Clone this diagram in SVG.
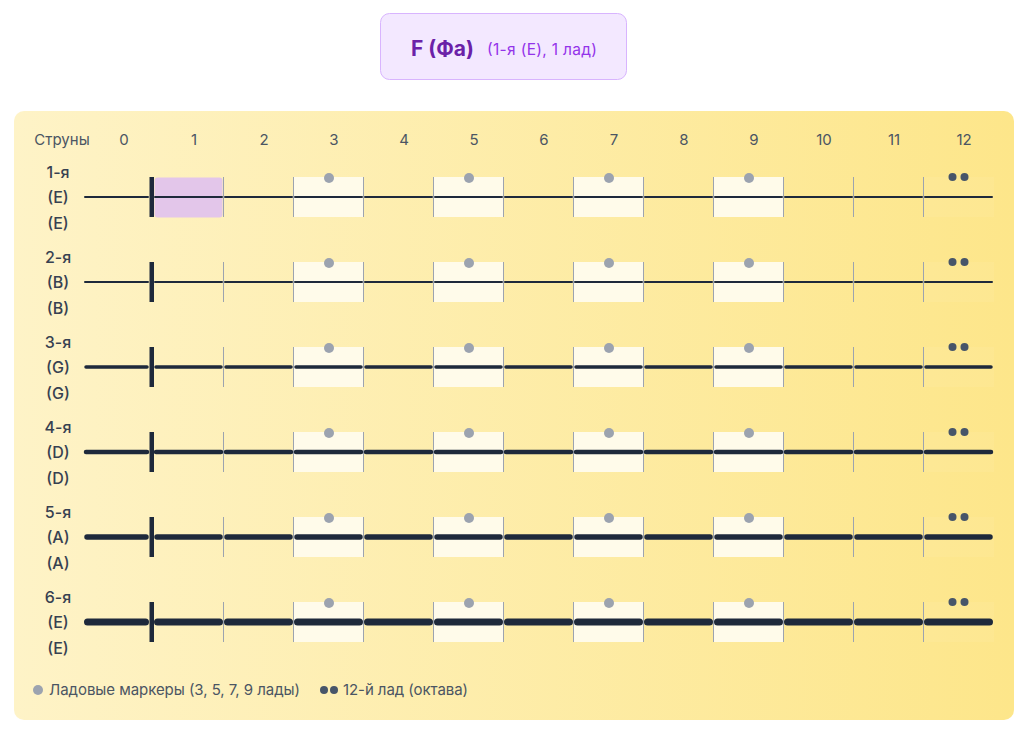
<svg xmlns="http://www.w3.org/2000/svg" xmlns:xlink="http://www.w3.org/1999/xlink" width="1023" height="738" viewBox="0 0 1023 738">
<defs>
<linearGradient id="bg" x1="0" y1="0" x2="1" y2="0">
<stop offset="0" stop-color="#fef3c7"/>
<stop offset="1" stop-color="#fde68a"/>
</linearGradient>
<style>
text{font-family:Inter,"Noto Sans","Liberation Sans",sans-serif}
.hdr{font-size:15px;fill:#4b5563;text-anchor:middle}
.lbl{font-size:16px;fill:#374151;text-anchor:middle;font-weight:500}
.leg{font-size:15px;fill:#4b5563}
.mcell{fill:#fffbea}
.fret{stroke:#9ca3af;stroke-width:1}
.dot{fill:#9ca3af}
.oct{fill:#475569}
.str{fill:none;stroke:#1e293b;stroke-linecap:round}
</style>
<g id="frame">
<rect class="mcell" x="293" y="-20" width="70" height="40"/>
<rect class="mcell" x="433" y="-20" width="70" height="40"/>
<rect class="mcell" x="573" y="-20" width="70" height="40"/>
<rect class="mcell" x="713" y="-20" width="70" height="40"/>
<rect x="923" y="-20" width="71" height="40" fill="#ffffff" fill-opacity="0.06"/>
<path class="fret" d="M223.5 -20V20M293.5 -20V20M363.5 -20V20M433.5 -20V20M503.5 -20V20M573.5 -20V20M643.5 -20V20M713.5 -20V20M783.5 -20V20M853.5 -20V20M923.5 -20V20"/>
</g>
<g id="marks">
<circle class="dot" cx="329" cy="-19" r="5"/>
<circle class="dot" cx="469" cy="-19" r="5"/>
<circle class="dot" cx="609" cy="-19" r="5"/>
<circle class="dot" cx="749" cy="-19" r="5"/>
<circle class="oct" cx="952.5" cy="-20" r="4"/>
<circle class="oct" cx="964.5" cy="-20" r="4"/>
<rect x="149.5" y="-20" width="4.5" height="40" fill="#1e293b"/>
</g>
</defs>

<g id="title">
<rect x="380.5" y="13.5" width="246" height="66" rx="9" fill="#f3e8ff" stroke="#d8b4fe" stroke-width="1"/>
<text x="411" y="56" font-size="21" font-weight="700" fill="#6b21a8" textLength="63">F (Фа)</text>
<text x="487" y="55" font-size="15.5" fill="#9333ea" textLength="110">(1-я (E), 1 лад)</text>
</g>

<g id="panel">
<rect x="14" y="111" width="1000" height="609" rx="10" fill="url(#bg)"/>
</g>

<g id="header">
<text class="hdr" x="62" y="145">Струны</text>
<text class="hdr" x="124" y="145">0</text>
<text class="hdr" x="194" y="145">1</text>
<text class="hdr" x="264" y="145">2</text>
<text class="hdr" x="334" y="145">3</text>
<text class="hdr" x="404" y="145">4</text>
<text class="hdr" x="474" y="145">5</text>
<text class="hdr" x="544" y="145">6</text>
<text class="hdr" x="614" y="145">7</text>
<text class="hdr" x="684" y="145">8</text>
<text class="hdr" x="754" y="145">9</text>
<text class="hdr" x="824" y="145">10</text>
<text class="hdr" x="894" y="145">11</text>
<text class="hdr" x="964" y="145">12</text>
</g>

<g id="string1" transform="translate(0,197)">
<use xlink:href="#frame" href="#frame"/>
<rect x="154.5" y="-19.5" width="68" height="40" rx="3" fill="#e3c6ea"/>
<path class="str" stroke-width="2" d="M85 0H148M155 0H222M225 0H292M295 0H362M365 0H432M435 0H502M505 0H572M575 0H642M645 0H712M715 0H782M785 0H852M855 0H922M925 0H992"/>
<use xlink:href="#marks" href="#marks"/>
<text class="lbl" x="58" y="-19">1-я</text>
<text class="lbl" x="58" y="6">(E)</text>
<text class="lbl" x="58" y="32">(E)</text>
</g>

<g id="string2" transform="translate(0,282)">
<use xlink:href="#frame" href="#frame"/>
<path class="str" stroke-width="2" d="M85 0H148M155 0H222M225 0H292M295 0H362M365 0H432M435 0H502M505 0H572M575 0H642M645 0H712M715 0H782M785 0H852M855 0H922M925 0H992"/>
<use xlink:href="#marks" href="#marks"/>
<text class="lbl" x="58" y="-19">2-я</text>
<text class="lbl" x="58" y="6">(B)</text>
<text class="lbl" x="58" y="32">(B)</text>
</g>

<g id="string3" transform="translate(0,367)">
<use xlink:href="#frame" href="#frame"/>
<path class="str" stroke-width="3.5" d="M86 0H147M156 0H221M226 0H291M296 0H361M366 0H431M436 0H501M506 0H571M576 0H641M646 0H711M716 0H781M786 0H851M856 0H921M926 0H991"/>
<use xlink:href="#marks" href="#marks"/>
<text class="lbl" x="58" y="-19">3-я</text>
<text class="lbl" x="58" y="6">(G)</text>
<text class="lbl" x="58" y="32">(G)</text>
</g>

<g id="string4" transform="translate(0,452)">
<use xlink:href="#frame" href="#frame"/>
<path class="str" stroke-width="4.5" d="M86 0H147M156 0H221M226 0H291M296 0H361M366 0H431M436 0H501M506 0H571M576 0H641M646 0H711M716 0H781M786 0H851M856 0H921M926 0H991"/>
<use xlink:href="#marks" href="#marks"/>
<text class="lbl" x="58" y="-19">4-я</text>
<text class="lbl" x="58" y="6">(D)</text>
<text class="lbl" x="58" y="32">(D)</text>
</g>

<g id="string5" transform="translate(0,537)">
<use xlink:href="#frame" href="#frame"/>
<path class="str" stroke-width="5.5" d="M87 0H146M157 0H220M227 0H290M297 0H360M367 0H430M437 0H500M507 0H570M577 0H640M647 0H710M717 0H780M787 0H850M857 0H920M927 0H990"/>
<use xlink:href="#marks" href="#marks"/>
<text class="lbl" x="58" y="-19">5-я</text>
<text class="lbl" x="58" y="6">(A)</text>
<text class="lbl" x="58" y="32">(A)</text>
</g>

<g id="string6" transform="translate(0,622)">
<use xlink:href="#frame" href="#frame"/>
<path class="str" stroke-width="7" d="M87.5 0H145.5M157.5 0H219.5M227.5 0H289.5M297.5 0H359.5M367.5 0H429.5M437.5 0H499.5M507.5 0H569.5M577.5 0H639.5M647.5 0H709.5M717.5 0H779.5M787.5 0H849.5M857.5 0H919.5M927.5 0H989.5"/>
<use xlink:href="#marks" href="#marks"/>
<text class="lbl" x="58" y="-19">6-я</text>
<text class="lbl" x="58" y="6">(E)</text>
<text class="lbl" x="58" y="32">(E)</text>
</g>

<g id="legend">
<circle cx="38" cy="690" r="5" fill="#9ca3af"/>
<text class="leg" x="49" y="695" textLength="251">Ладовые маркеры (3, 5, 7, 9 лады)</text>
<circle cx="324" cy="690" r="4" fill="#475569"/>
<circle cx="334" cy="690" r="4" fill="#475569"/>
<text class="leg" x="343" y="695" textLength="125">12-й лад (октава)</text>
</g>
</svg>
